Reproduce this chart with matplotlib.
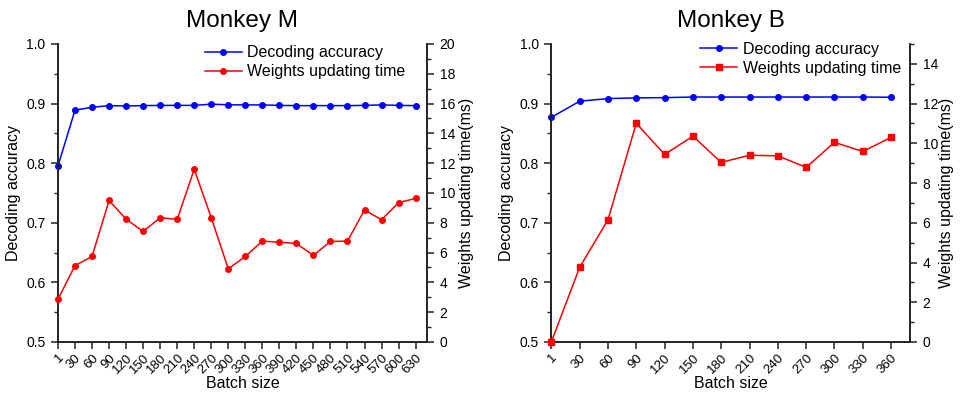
import numpy as np
import matplotlib.pyplot as plt
from matplotlib.ticker import MultipleLocator

plt.rcParams['font.family'] = ['Liberation Sans', 'DejaVu Sans']

# Monkey M
batch_m = ['1', '30', '60', '90', '120', '150', '180', '210', '240', '270', '300', '330',
           '360', '390', '420', '450', '480', '510', '540', '570', '600', '630']
acc_m = [0.7955, 0.889, 0.8938, 0.8966, 0.896, 0.8966, 0.897, 0.897, 0.897, 0.899, 0.898,
         0.8978, 0.8978, 0.897, 0.8966, 0.8966, 0.8966, 0.8966, 0.897, 0.8978, 0.897, 0.8966]
time_m = [2.87, 5.13, 5.74, 9.5, 8.24, 7.42, 8.34, 8.23, 11.59, 8.34, 4.91, 5.74,
          6.77, 6.70, 6.61, 5.81, 6.75, 6.77, 8.86, 8.21, 9.35, 9.64]

# Monkey B
batch_b = ['1', '30', '60', '90', '120', '150', '180', '210', '240', '270', '300', '330', '360']
acc_b = [0.877, 0.904, 0.9084, 0.9096, 0.910, 0.911, 0.911, 0.911, 0.911, 0.911, 0.911,
         0.911, 0.9107]
time_b = [0.0, 3.76, 6.15, 11.01, 9.44, 10.36, 9.04, 9.40, 9.37, 8.79, 10.05, 9.59, 10.30]

fig = plt.figure(figsize=(9.6, 3.96), dpi=100)


def panel(rect, title, batch, acc, tms, tmax, red_marker, leg_x, leg_y, rpad):
    ax = fig.add_axes(rect)
    ax2 = ax.twinx()
    x = np.arange(len(batch))
    l1, = ax.plot(x, acc, '-', color='#0000ff', marker='o', ms=4, lw=1.1,
                  clip_on=False, zorder=3, label='Decoding accuracy')
    ms = 4 if red_marker == 'o' else 3.8
    l2, = ax2.plot(x, tms, '-', color='#ff0000', marker=red_marker, ms=ms, lw=1.1,
                   clip_on=False, zorder=3, label='Weights updating time')

    ax.set_xlim(0, len(batch) - 1 + 0.67)
    ax.set_ylim(0.5, 1.0)
    ax2.set_ylim(0, tmax)
    ax.yaxis.set_major_locator(MultipleLocator(0.1))
    ax.yaxis.set_minor_locator(MultipleLocator(0.05))
    ax2.yaxis.set_major_locator(MultipleLocator(2))
    ax2.yaxis.set_minor_locator(MultipleLocator(1))
    ax.set_yticks(np.arange(0.5, 1.01, 0.1))
    ax.set_yticklabels(['%.1f' % v for v in np.arange(0.5, 1.01, 0.1)])
    ax2.set_yticks(np.arange(0, tmax + 0.1, 2))
    ax.set_xticks(x)
    ax.set_xticklabels(batch, rotation=45, ha='right', va='top',
                       rotation_mode='anchor', fontsize=9.5)

    for a in (ax, ax2):
        a.spines['top'].set_visible(False)
        for s in a.spines.values():
            s.set_linewidth(1.2)
            s.set_color('#222222')
        a.tick_params(which='major', direction='out', length=5, width=1.1,
                      labelsize=10, color='#222222', pad=4)
        a.tick_params(which='minor', direction='out', length=3, width=1.0,
                      color='#222222')
    ax.tick_params(axis='x', labelsize=9.5, pad=2)

    ax.set_xlabel('Batch size', fontsize=11.5, labelpad=0)
    ax.set_ylabel('Decoding accuracy', fontsize=11.5, labelpad=4)
    ax2.set_ylabel('Weights updating time(ms)', fontsize=11.5, labelpad=rpad)
    ax.set_title(title, fontsize=17.5, pad=12)

    ax.legend([l1, l2], ['Decoding accuracy', 'Weights updating time'],
              loc='upper left', bbox_to_anchor=(leg_x, leg_y), frameon=False,
              fontsize=11.5, handlelength=2.3, handletextpad=0.35,
              labelspacing=0.25, borderpad=0, borderaxespad=0)
    return ax


panel([0.0604, 0.1364, 0.3844, 0.7525], 'Monkey M', batch_m, acc_m, time_m, 20, 'o', 0.398, 0.995, 3)
panel([0.5743, 0.1364, 0.3737, 0.7525], 'Monkey B', batch_b, acc_b, time_b, 15, 's', 0.415, 1.007, 1)

fig.savefig('out.png', dpi=100)
